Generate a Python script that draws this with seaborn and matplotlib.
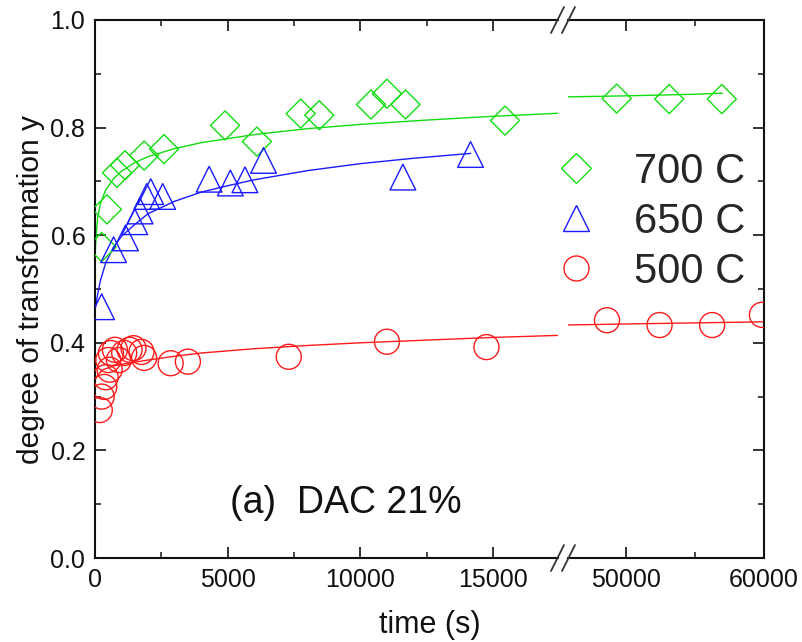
import numpy as np
import pandas as pd
import matplotlib
matplotlib.use("Agg")
import matplotlib.pyplot as plt
from matplotlib.lines import Line2D
from matplotlib.ticker import FixedLocator, NullFormatter, FormatStrFormatter, MultipleLocator
import seaborn as sns

# ---------------- data ----------------
labels = ["700 C", "650 C", "500 C"]

t700 = [250, 450, 830, 1130, 1850, 2600, 4900, 6100, 7750, 8450, 10400, 11000, 11700, 15450,
        49350, 53150, 56950]
y700 = [0.578, 0.648, 0.716, 0.730, 0.748, 0.760, 0.804, 0.774, 0.826, 0.823, 0.843, 0.863, 0.843, 0.813,
        0.854, 0.853, 0.853]

t650 = [250, 700, 1150, 1500, 1700, 1950, 2100, 2550, 4300, 5100, 5650, 6350, 11600, 14150]
y650 = [0.467, 0.573, 0.595, 0.625, 0.645, 0.672, 0.681, 0.672, 0.704, 0.697, 0.703, 0.739, 0.708, 0.750]

t500 = [180, 250, 350, 400, 550, 500, 600, 750, 900, 1100, 1300, 1450, 1750, 1850, 2850, 3500, 7300,
        11000, 14750, 48650, 52450, 56250, 59850]
y500 = [0.275, 0.300, 0.318, 0.336, 0.350, 0.368, 0.381, 0.387, 0.368, 0.381, 0.387, 0.390, 0.383, 0.372,
        0.362, 0.365, 0.374, 0.402, 0.392, 0.442, 0.433, 0.433, 0.452]

# fitted curves
ft700 = [0, 50, 100, 200, 400, 700, 1000, 1500, 2000, 3000, 4000, 6000, 8000, 10000, 12500, 15000, 17600,
         45500, 50000, 55000, 57000]
fy700 = [0.56, 0.605, 0.632, 0.658, 0.684, 0.705, 0.719, 0.735, 0.746, 0.761, 0.772, 0.787, 0.798, 0.806,
         0.814, 0.821, 0.827, 0.857, 0.859, 0.862, 0.864]

ft650 = [0, 100, 200, 400, 700, 1000, 1500, 2000, 3000, 4000, 5000, 6000, 8000, 10000, 12000, 14150]
fy650 = [0.46, 0.49, 0.515, 0.548, 0.578, 0.598, 0.620, 0.640, 0.663, 0.680, 0.692, 0.703, 0.720, 0.733,
         0.743, 0.752]

ft500 = [0, 100, 300, 700, 1000, 1500, 2000, 3000, 4000, 6000, 8000, 10000, 12500, 15000, 17600,
         45500, 50000, 55000, 60000]
fy500 = [0.33, 0.34, 0.35, 0.357, 0.36, 0.364, 0.368, 0.375, 0.381, 0.389, 0.395, 0.400, 0.405, 0.410, 0.414,
         0.433, 0.435, 0.437, 0.439]

xticks_left = [0, 5000, 10000, 15000]
xminor_left = [2500, 7500, 12500]
xticks_right = [50000, 60000]
xminor_right = [55000]

# ---------------- style ----------------
sns.set_style("ticks")
plt.rcParams["font.family"] = ["Liberation Sans", "DejaVu Sans"]

colors = {"700 C": "#11dd11", "650 C": "#1a1aff", "500 C": "#ff1a1a"}
markers = {"700 C": "D", "650 C": "^", "500 C": "o"}
msize = {"700 C": 14.8, "650 C": 18.5, "500 C": 18.0}

W, H = 802, 642
fig = plt.figure(figsize=(W / 100, H / 100), dpi=100)

def fx(px):
    return px / W

def fy(py):
    return 1 - py / H

x0, x1, x2, x3 = 95, 558, 568, 764
ytop, ybot = 20, 558
ax1 = fig.add_axes([fx(x0), fy(ybot), (x1 - x0) / W, (ybot - ytop) / H])
ax2 = fig.add_axes([fx(x2), fy(ybot), (x3 - x2) / W, (ybot - ytop) / H], sharey=ax1)

series = [
    ("700 C", t700, y700, ft700, fy700),
    ("650 C", t650, y650, ft650, fy650),
    ("500 C", t500, y500, ft500, fy500),
]

split = 30000
for name, t, y, ft, fyv in series:
    pts = pd.DataFrame({"t": t, "y": y})
    fit = pd.DataFrame({"t": ft, "y": fyv})
    c = colors[name]
    for ax, sel_p, sel_f in [
        (ax1, pts["t"] < split, fit["t"] < split),
        (ax2, pts["t"] >= split, fit["t"] >= split),
    ]:
        fsub = fit[sel_f]
        if len(fsub) > 1:
            sns.lineplot(data=fsub, x="t", y="y", ax=ax, color=c, lw=1.0,
                         estimator=None, sort=False, zorder=2)
        psub = pts[sel_p]
        if len(psub) > 0:
            sns.scatterplot(data=psub, x="t", y="y", ax=ax, marker=markers[name],
                            s=msize[name] ** 2, facecolors="none", edgecolor=c,
                            color=c, linewidth=1.0, zorder=3, clip_on=True)

# ---------------- axes formatting ----------------
for ax in (ax1, ax2):
    ax.set_ylim(0, 1.0)
    ax.yaxis.set_major_locator(MultipleLocator(0.2))
    ax.yaxis.set_minor_locator(MultipleLocator(0.1))
    ax.set_xlabel("")
    ax.set_ylabel("")
    for s in ax.spines.values():
        s.set_linewidth(1.5)
        s.set_color("#111111")
    ax.tick_params(which="major", direction="in", length=8, width=1.2, labelsize=18, pad=7,
                   colors="#111111")
    ax.tick_params(which="minor", direction="in", length=4.5, width=1.2)
    ax.set_facecolor("white")

ax1.set_xlim(0, 17445)
ax1.xaxis.set_major_locator(FixedLocator(xticks_left))
ax1.xaxis.set_minor_locator(FixedLocator(xminor_left))
ax1.xaxis.set_major_formatter(FormatStrFormatter("%d"))
ax1.yaxis.set_major_formatter(FormatStrFormatter("%.1f"))
ax1.spines["right"].set_visible(False)
ax1.tick_params(which="both", top=True, bottom=True, left=True, right=False)

ax2.set_xlim(45830, 60000)
ax2.xaxis.set_major_locator(FixedLocator(xticks_right))
ax2.xaxis.set_minor_locator(FixedLocator(xminor_right))
ax2.xaxis.set_major_formatter(FormatStrFormatter("%d"))
ax2.spines["left"].set_visible(False)
ax2.tick_params(which="both", top=True, bottom=True, left=False, right=True,
                labelleft=False, labelright=False)

ax1.set_ylabel("degree of transformation y", fontsize=21.5, color="#111111")
ax1.yaxis.set_label_coords((45 - x0) / (x1 - x0), 0.5)

fig.text(fx(429.5), fy(633), "time (s)", ha="center", va="baseline", fontsize=22, color="#111111")

ax1.text((230 - x0) / (x1 - x0), (ybot - 513) / (ybot - ytop), "(a)  DAC 21%",
         transform=ax1.transAxes, ha="left", va="baseline", fontsize=27, color="#111111")

# ---------------- legend ----------------
handles = [Line2D([], [], marker=markers[n], ls="", mfc="none", mec=colors[n],
                  ms=msize[n], mew=1.0) for n in labels]
fig.legend(handles, labels, loc="upper left", bbox_to_anchor=(fx(555), fy(152)),
           frameon=False, fontsize=30, handlelength=1.0, handletextpad=0.9,
           labelspacing=0.24, borderpad=0, borderaxespad=0)

# ---------------- axis-break marks ----------------
for ybase in (ybot, ytop):
    for dx in (0, 11):
        fig.add_artist(Line2D([fx(551 + dx), fx(564 + dx)], [fy(ybase + 13), fy(ybase - 13)],
                              color="#333333", lw=1.3))

fig.savefig("out.png", dpi=100, facecolor="white")
